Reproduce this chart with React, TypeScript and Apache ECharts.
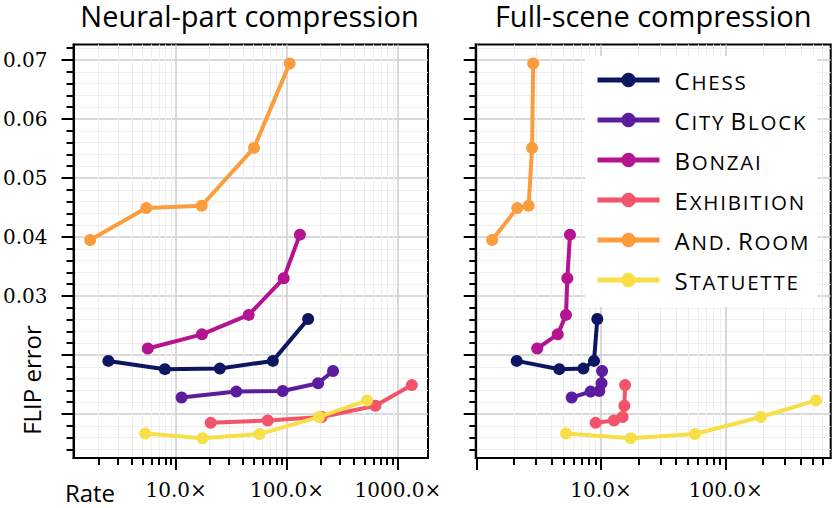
import React, { useEffect, useRef } from 'react';
import * as echarts from 'echarts';

// Scenes and colours
const sceneNames = ['Chess', 'City Block', 'Bonzai', 'Exhibition', 'And. Room', 'Statuette'];
const sceneColors = ['#0d1660', '#5b1d9e', '#b4148f', '#f2546a', '#fc9d3d', '#f8de48'];

// FLIP error per quality level (same for both panels)
const flipChess = [0.0190, 0.0176, 0.0177, 0.0190, 0.0261];
const flipCityBlock = [0.0128, 0.0138, 0.0139, 0.0152, 0.0173];
const flipBonzai = [0.0211, 0.0235, 0.0268, 0.0330, 0.0404];
const flipExhibition = [0.0085, 0.0089, 0.0095, 0.0114, 0.0149];
const flipAndRoom = [0.0395, 0.0449, 0.0453, 0.0551, 0.0694];
const flipStatuette = [0.0067, 0.0059, 0.0066, 0.0095, 0.0123];

// Compression rate, neural-part compression
const neuralChess = [2.45, 7.92, 24.8, 74.5, 155];
const neuralCityBlock = [11.2, 34.9, 91.4, 190.6, 260];
const neuralBonzai = [5.55, 17.1, 45.1, 93.3, 130.6];
const neuralExhibition = [20.5, 67.1, 205.6, 626, 1334];
const neuralAndRoom = [1.68, 5.38, 17.0, 50.4, 105.6];
const neuralStatuette = [5.27, 17.3, 56.5, 194.5, 527];

// Compression rate, full-scene compression
const fullChess = [2.11, 4.63, 7.22, 8.79, 9.34];
const fullCityBlock = [5.82, 8.26, 9.69, 10.1, 10.2];
const fullBonzai = [3.08, 4.5, 5.24, 5.37, 5.64];
const fullExhibition = [9.06, 12.7, 14.9, 15.4, 15.6];
const fullAndRoom = [1.34, 2.13, 2.63, 2.8, 2.86];
const fullStatuette = [5.24, 17.3, 56.8, 191, 530];

// Tick labels
const yTickValues = [0.01, 0.02, 0.03, 0.04, 0.05, 0.06, 0.07];
const yLabelValues = [0.03, 0.04, 0.05, 0.06, 0.07];
const xLabelsLeft = [10, 100, 1000];
const xLabelsRight = [10, 100];

const panelTitles = ['Neural-part compression', 'Full-scene compression'];

const flips = [flipChess, flipCityBlock, flipBonzai, flipExhibition, flipAndRoom, flipStatuette];
const neuralRates = [neuralChess, neuralCityBlock, neuralBonzai, neuralExhibition, neuralAndRoom, neuralStatuette];
const fullRates = [fullChess, fullCityBlock, fullBonzai, fullExhibition, fullAndRoom, fullStatuette];

const SERIF = 'DejaVu Serif';
const SANS = 'Open Sans';

function buildOption() {
  const L10 = Math.log10;
  const xRange = [
    [0.0752, 3.271],
    [-0.0048, 2.842],
  ];
  const grids = [
    { left: 71, top: 44.5, width: 357, height: 413.5 },
    { left: 475.7, top: 44.5, width: 355, height: 413.5 },
  ].map((g) => ({
    ...g,
    show: true,
    borderColor: '#000',
    borderWidth: 2,
    backgroundColor: 'transparent',
  }));

  const yMin = 0.002542;
  const yMax = 0.07263;
  const yMinor: number[] = [];
  for (let i = 2; i <= 36; i++) {
    if (i % 5 !== 0) yMinor.push(+(i * 0.002).toFixed(4));
  }

  const xAxes: any[] = [];
  const yAxes: any[] = [];
  [0, 1].forEach((g) => {
    const [mn, mx] = xRange[g];
    const major: number[] = [];
    const minor: number[] = [];
    for (let n = -1; n <= 3; n++) {
      if (n >= mn - 1e-9 && n <= mx + 1e-9) major.push(n);
      for (let k = 2; k <= 9; k++) {
        const v = n + L10(k);
        if (v >= mn && v <= mx) minor.push(v);
      }
    }
    const labels = (g === 0 ? xLabelsLeft : xLabelsRight).map((v) => L10(v));
    // minor x axis
    xAxes.push({
      gridIndex: g,
      type: 'value',
      min: mn,
      max: mx,
      position: 'bottom',
      axisLine: { show: false },
      axisTick: { show: true, length: 7, customValues: minor, lineStyle: { color: '#000', width: 2 } },
      axisLabel: { show: false },
      splitLine: { show: true, lineStyle: { color: '#eeeeee', width: 1 } },
    });
    // major x axis
    xAxes.push({
      gridIndex: g,
      type: 'value',
      min: mn,
      max: mx,
      position: 'bottom',
      axisLine: { show: true, onZero: false, lineStyle: { color: '#000', width: 2 } },
      axisTick: { show: true, length: 12, customValues: major, lineStyle: { color: '#000', width: 2 } },
      axisLabel: {
        show: true,
        customValues: labels,
        formatter: (v: number) => Math.pow(10, v).toFixed(1) + '\u00d7',
        fontFamily: SERIF,
        fontSize: 20,
        color: '#000',
        margin: 22,
      },
      splitLine: { show: true, lineStyle: { color: '#cdcdcd', width: 1.5 } },
    });
    // minor y axis
    yAxes.push({
      gridIndex: g,
      type: 'value',
      min: yMin,
      max: yMax,
      position: 'left',
      axisLine: { show: false },
      axisTick: { show: true, length: 7, customValues: yMinor, lineStyle: { color: '#000', width: 2 } },
      axisLabel: { show: false },
      splitLine: { show: true, lineStyle: { color: '#eeeeee', width: 1 } },
    });
    // major y axis
    yAxes.push({
      gridIndex: g,
      type: 'value',
      min: yMin,
      max: yMax,
      position: 'left',
      axisLine: { show: true, onZero: false, lineStyle: { color: '#000', width: 2 } },
      axisTick: { show: true, length: 12, customValues: yTickValues, lineStyle: { color: '#000', width: 2 } },
      axisLabel: {
        show: g === 0,
        customValues: yLabelValues,
        formatter: (v: number) => v.toFixed(2),
        fontFamily: SERIF,
        fontSize: 20,
        color: '#000',
        margin: 26,
      },
      splitLine: { show: true, lineStyle: { color: '#cdcdcd', width: 1.5 } },
    });
  });

  const series: any[] = [];
  [0, 1].forEach((g) => {
    const rates = g === 0 ? neuralRates : fullRates;
    sceneNames.forEach((name, i) => {
      series.push({
        type: 'line',
        name,
        xAxisIndex: g * 2 + 1,
        yAxisIndex: g * 2 + 1,
        data: rates[i].map((r, j) => [L10(r), flips[i][j]]),
        symbol: 'circle',
        symbolSize: 12,
        showSymbol: true,
        lineStyle: { color: sceneColors[i], width: 4 },
        itemStyle: { color: sceneColors[i] },
        z: 3 + i,
      });
    });
  });

  // small caps with a little tracking: one token per letter
  const smallCaps = (name: string) =>
    '{g| }' +
    name
      .split(' ')
      .map(
        (w) =>
          `{a|${w[0]}}` +
          w
            .slice(1)
            .toUpperCase()
            .split('')
            .map((c) => `{b|${c}}`)
            .join('')
      )
      .join('{s| }');

  const txt = (text: string, x: number, y: number, size: number, extra: any = {}) => ({
    type: 'text',
    x,
    y,
    ...extra,
    style: {
      text,
      fontFamily: SANS,
      fontSize: size,
      lineHeight: size - 3,
      fill: '#000',
      textAlign: 'center',
      textVerticalAlign: 'middle',
      align: 'center',
      verticalAlign: 'middle',
    },
  });

  const graphic: any[] = [
    txt(panelTitles[0], 249.5, 15, 29),
    txt(panelTitles[1], 653.2, 15, 29),
    txt('Rate', 90, 492, 24),
    txt('FLIP error', 31.7, 380, 24, { rotation: Math.PI / 2 }),
  ];

  return {
    animation: false,
    backgroundColor: '#fff',
    grid: grids,
    xAxis: xAxes,
    yAxis: yAxes,
    series,
    graphic,
    legend: {
      data: sceneNames,
      orient: 'vertical',
      left: 585,
      top: 56,
      padding: [12, 9, 15, 10],
      itemWidth: 62,
      itemHeight: 18,
      itemGap: 16,
      backgroundColor: '#fff',
      z: 20,
      lineStyle: { width: 5 },
      formatter: smallCaps,
      textStyle: {
        fontFamily: SANS,
        color: '#000',
        rich: {
          g: { fontFamily: SANS, fontSize: 10, width: 10, verticalAlign: 'bottom' },
          s: { fontFamily: SANS, fontSize: 20.5, verticalAlign: 'bottom' },
          a: { fontFamily: SANS, fontSize: 24, color: '#000', verticalAlign: 'bottom', padding: [0, 1.8, 0, 0] },
          b: { fontFamily: SANS, fontSize: 20.5, color: '#000', verticalAlign: 'bottom', padding: [0, 1.8, 0, 0] },
        },
      },
    },
  };
}

export default function App() {
  const ref = useRef<HTMLDivElement>(null);
  useEffect(() => {
    if (!ref.current) return;
    const chart = echarts.init(ref.current, undefined, { renderer: 'svg' });
    chart.setOption(buildOption() as any);
    return () => chart.dispose();
  }, []);
  return (
    <div
      ref={ref}
      style={{ position: 'fixed', left: 0, top: 0, width: 832, height: 508, background: '#fff' }}
    />
  );
}
